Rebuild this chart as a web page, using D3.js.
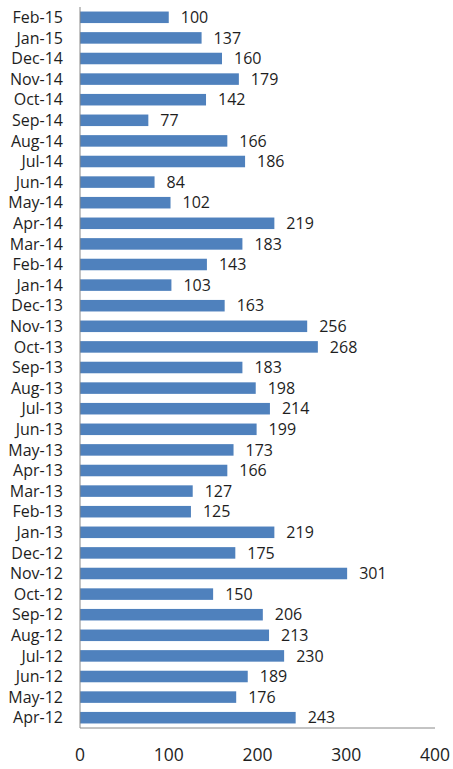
<!DOCTYPE html>
<meta charset="utf-8">
<style>
body{margin:0;background:#fff;}
text{font-family:'Open Sans',sans-serif;fill:#1e1e1e;}
</style>
<svg id="svg"></svg>
<script src="https://d3js.org/d3.v7.min.js"></script>
<script>
var months = ["Feb-15","Jan-15","Dec-14","Nov-14","Oct-14","Sep-14","Aug-14","Jul-14","Jun-14","May-14",
  "Apr-14","Mar-14","Feb-14","Jan-14","Dec-13","Nov-13","Oct-13","Sep-13","Aug-13","Jul-13",
  "Jun-13","May-13","Apr-13","Mar-13","Feb-13","Jan-13","Dec-12","Nov-12","Oct-12","Sep-12",
  "Aug-12","Jul-12","Jun-12","May-12","Apr-12"]
var values = [100,137,160,179,142,77,166,186,84,102,
  219,183,143,103,163,256,268,183,198,214,
  199,173,166,127,125,219,175,301,150,206,
  213,230,189,176,243]
var ticks = [0,100,200,300,400]

var width = 453, height = 769
var m = {top:7, left:80, right:18, bottom:41}

var svg = d3.select('#svg').attr('width',width).attr('height',height)

var x = d3.scaleLinear().domain([0,400]).range([m.left, width-m.right])
var y = d3.scaleBand().domain(months).range([m.top, height-m.bottom]).paddingInner(0.44).paddingOuter(0.22)

var data = months.map((d,i)=>({m:d, v:values[i]}))

svg.selectAll('rect.bar').data(data).enter().append('rect')
  .attr('class','bar')
  .attr('x', x(0))
  .attr('y', d=>y(d.m))
  .attr('width', d=>x(d.v)-x(0))
  .attr('height', y.bandwidth())
  .attr('fill','#4f81bd')

// value labels
svg.selectAll('text.val').data(data).enter().append('text')
  .attr('class','val')
  .attr('x', d=>x(d.v)+12)
  .attr('y', d=>y(d.m)+y.bandwidth()/2)
  .attr('dy','.36em')
  .style('font-size','16px')
  .text(d=>d.v)

// category labels
svg.selectAll('text.cat').data(months).enter().append('text')
  .attr('class','cat')
  .attr('x', m.left-17)
  .attr('y', d=>y(d)+y.bandwidth()/2)
  .attr('dy','.36em')
  .attr('text-anchor','end')
  .style('font-size','16px')
  .text(d=>d)

// axes lines
svg.append('line')
  .attr('x1',x(0)).attr('x2',x(0))
  .attr('y1',m.top).attr('y2',height-m.bottom)
  .attr('stroke','#888').attr('stroke-width',1)
svg.append('line')
  .attr('x1',x(0)).attr('x2',x(400))
  .attr('y1',height-m.bottom).attr('y2',height-m.bottom)
  .attr('stroke','#888').attr('stroke-width',1)

svg.selectAll('text.tick').data(ticks).enter().append('text')
  .attr('class','tick')
  .attr('x', d=>x(d))
  .attr('y', height-m.bottom+27)
  .attr('dy','.36em')
  .attr('text-anchor','middle')
  .style('font-size','17.5px')
  .text(d=>d)
</script>
